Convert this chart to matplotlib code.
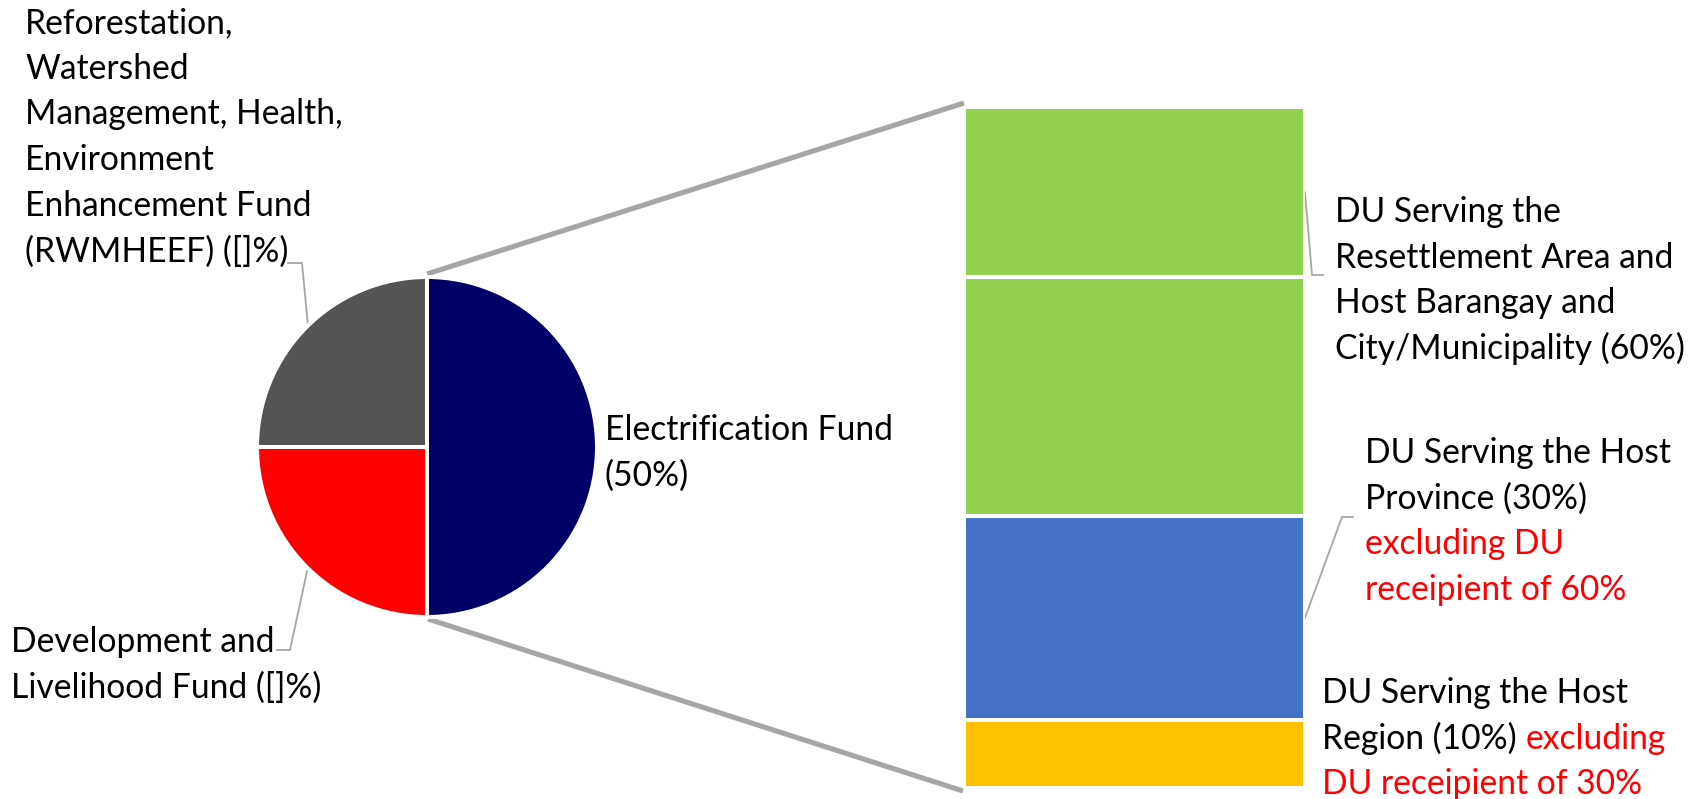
import matplotlib
matplotlib.use("Agg")
import matplotlib.pyplot as plt
import numpy as np

# ---------------- data ----------------
pie_names = ["Electrification Fund", "RWMHEEF", "Development and Livelihood Fund"]
pie_values = [50, 25, 25]
pie_colors = ["#000066", "#545454", "#FF0000"]

# split of the Electrification Fund shown in the bar (top -> bottom, %)
bar_values = [25, 35, 30, 10]
bar_colors = ["#92D050", "#92D050", "#4472C4", "#FFC000"]

K, R_ = "#000000", "#FF0000"
label_rwm = ["Reforestation,", "Watershed", "Management, Health,", "Environment",
             "Enhancement Fund", "(RWMHEEF) ([]%)"]
label_dev = ["Development and", "Livelihood Fund ([]%)"]
label_elec = ["Electrification Fund", "(50%)"]
label_green = ["DU Serving the", "Resettlement Area and", "Host Barangay and",
               "City/Municipality (60%)"]
label_blue = [[("DU Serving the Host", K)], [("Province (30%)", K)],
              [("excluding DU", R_)], [("receipient of 60%", R_)]]
label_yellow = [[("DU Serving the Host", K)],
                [("Region (10%) ", K), ("excluding", R_)],
                [("DU receipient of 30%", R_)]]

# ---------------- layout ----------------
W, H, DPI = 1704, 799, 100
FONT = ["Lato", "DejaVu Sans"]
LINE = 45.7
GRAY_CONN = "#A6A6A6"
GRAY_LEAD = "#A6A6A6"

fig = plt.figure(figsize=(W / DPI, H / DPI), dpi=DPI)
fig.patch.set_facecolor("white")

ax0 = fig.add_axes([0, 0, 1, 1])
ax0.set_xlim(0, W)
ax0.set_ylim(H, 0)
ax0.axis("off")

# pie
pcx, pcy, PR = 427, 447, 170
axp = fig.add_axes([(pcx - PR) / W, (H - (pcy + PR)) / H, 2 * PR / W, 2 * PR / H])
axp.pie(pie_values, colors=pie_colors, startangle=-90, counterclock=True, radius=1,
        wedgeprops=dict(edgecolor="white", linewidth=2.9))
axp.set_xlim(-1, 1)
axp.set_ylim(-1, 1)
axp.axis("off")

# bar
bx0, bx1, by0, by1 = 964, 1305, 107, 788  # pixel box (from top)
axb = fig.add_axes([bx0 / W, (H - by1) / H, (bx1 - bx0) / W, (by1 - by0) / H])
bottom = 0
vals_bottom_up = bar_values[::-1]
cols_bottom_up = bar_colors[::-1]
mids = []
for v, c in zip(vals_bottom_up, cols_bottom_up):
    axb.bar(0, v, bottom=bottom, width=1, color=c, edgecolor="white", linewidth=2.9)
    mids.append(bottom + v / 2)
    bottom += v
mids = mids[::-1]  # top -> bottom
axb.set_xlim(-0.5, 0.5)
axb.set_ylim(0, sum(bar_values))
axb.axis("off")

# connectors (series lines)
pr_vis = PR - 2
ax0.plot([pcx, bx0], [pcy - pr_vis - 5, by0 - 4], color=GRAY_CONN, lw=3.7,
         solid_capstyle="butt", zorder=1)
ax0.plot([pcx + 1, bx0 - 1], [pcy + pr_vis + 4, by1 + 3], color=GRAY_CONN, lw=3.7,
         solid_capstyle="butt", zorder=1)

# fit font size
fig.canvas.draw()
rend = fig.canvas.get_renderer()
tmp = ax0.text(0, 0, "City/Municipality (60%)", fontsize=30, family=FONT)
w30 = tmp.get_window_extent(rend).width
tmp.remove()
FS = 30 * 350 / w30


def text_width(s):
    t = ax0.text(0, 0, s, fontsize=FS, family=FONT)
    w = t.get_window_extent(rend).width
    t.remove()
    return w


def draw_lines(x0, y0, lines):
    for i, line in enumerate(lines):
        if isinstance(line, str):
            line = [(line, K)]
        y = y0 + i * LINE
        acc = ""
        for s, col in line:
            acc += s
            x = x0 + text_width(acc) - text_width(s) if acc != s else x0
            ax0.text(x, y, s, fontsize=FS, family=FONT, color=col,
                     ha="left", va="baseline")


draw_lines(25, 33, label_rwm)
draw_lines(11, 652, label_dev)
draw_lines(605, 440, label_elec)
draw_lines(1335, 222, label_green)
draw_lines(1365, 463, label_blue)
draw_lines(1322, 703, label_yellow)


# leader lines
def pie_pt(deg):
    a = np.deg2rad(deg)
    return pcx + pr_vis * np.cos(a), pcy - pr_vis * np.sin(a)


def bar_pt(mid):
    disp = axb.transData.transform((0.5, mid))
    return ax0.transData.inverted().transform(disp)


p = pie_pt(135)
ax0.plot([p[0], 302, 288], [p[1], 263, 263], color=GRAY_LEAD, lw=1.3, zorder=1)
p = pie_pt(225)
ax0.plot([p[0], 290, 277], [p[1], 650, 650], color=GRAY_LEAD, lw=1.3, zorder=1)
p = bar_pt(mids[0])
ax0.plot([p[0], 1312, 1323], [p[1], 275, 275], color=GRAY_LEAD, lw=1.3, zorder=1)
p = bar_pt(mids[2])
ax0.plot([p[0], 1342, 1353], [p[1], 517, 517], color=GRAY_LEAD, lw=1.3, zorder=1)

fig.savefig("out.png", dpi=DPI, facecolor="white")
